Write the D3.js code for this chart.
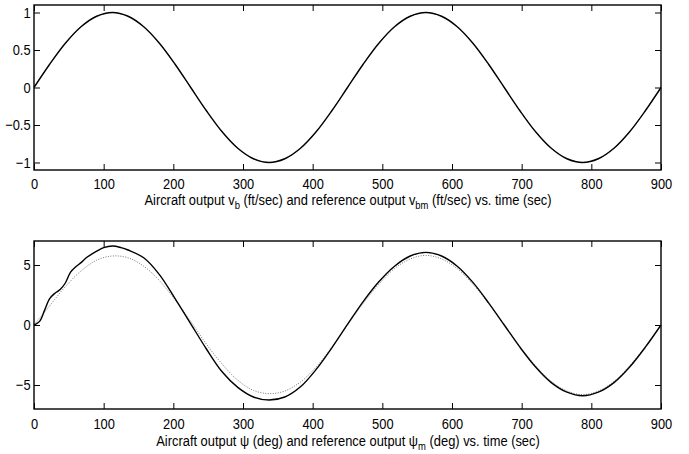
<!DOCTYPE html>
<html>
<head>
<meta charset="utf-8">
<script src="https://cdn.jsdelivr.net/npm/d3@7/dist/d3.min.js"></script>
<style>
  body { margin: 0; background: #fff; }
  svg text { font-family: "Liberation Sans", Arial, sans-serif; fill: #000; }
</style>
</head>
<body>
<div id="chart"></div>
<script>
// time samples (sec)
var time = [0, 22.5, 45, 67.5, 90, 112.5, 135, 157.5, 180, 202.5, 225, 247.5, 270, 292.5, 315, 337.5,
    360, 382.5, 405, 427.5, 450, 472.5, 495, 517.5, 540, 562.5, 585, 607.5, 630, 652.5, 675,
    697.5, 720, 742.5, 765, 787.5, 810, 832.5, 855, 877.5, 900];

// v_b and v_bm (ft/sec)
var vb = [0, 0.31, 0.59, 0.81, 0.95, 1.0, 0.95, 0.81, 0.59, 0.31, 0, -0.31, -0.59, -0.81, -0.95, -1.0,
    -0.95, -0.81, -0.59, -0.31, 0, 0.31, 0.59, 0.81, 0.95, 1.0, 0.95, 0.81, 0.59, 0.31, 0,
    -0.31, -0.59, -0.81, -0.95, -1.0, -0.95, -0.81, -0.59, -0.31, 0];
var vbm = vb.slice();

// psi (deg) - it has a few extra early samples
var psiTime = [0, 8, 15, 22.5, 30, 37.5, 45, 52.5, 60, 67.5, 75, 90, 100, 112.5, 125, 135, 157.5, 180,
    202.5, 225, 247.5, 270, 292.5, 315, 337.5, 360, 382.5, 405, 427.5, 450, 472.5, 495, 517.5,
    540, 562.5, 585, 607.5, 630, 652.5, 675, 697.5, 720, 742.5, 765, 787.5, 810, 832.5, 855,
    877.5, 900];
var psi = [0, 0.3, 1.2, 2.2, 2.65, 2.95, 3.5, 4.4, 4.85, 5.2, 5.6, 6.15, 6.45, 6.58, 6.45, 6.25, 5.6, 4.2,
    2.2, 0.1, -2.0, -3.9, -5.2, -6.0, -6.25, -6.0, -5.15, -3.7, -1.9, 0.05, 1.95, 3.6, 4.9,
    5.75, 6.05, 5.75, 4.9, 3.55, 1.85, 0, -1.85, -3.5, -4.8, -5.6, -5.9, -5.6, -4.8, -3.5,
    -1.85, 0];
var psim = [0, 1.6, 3.2, 4.5, 5.4, 5.75, 5.6, 4.9, 3.7, 2.1, 0.3, -1.6, -3.25, -4.6, -5.45, -5.72,
    -5.5, -4.75, -3.5, -1.85, 0, 1.8, 3.4, 4.7, 5.5, 5.8, 5.5, 4.7, 3.4, 1.8, 0,
    -1.8, -3.4, -4.7, -5.5, -5.8, -5.5, -4.7, -3.4, -1.8, 0];

var xTicks = [0, 100, 200, 300, 400, 500, 600, 700, 800, 900];
var topTicks = [-1, -0.5, 0, 0.5, 1];
var botTicks = [-5, 0, 5];

var W = 689, H = 454, squeeze = 0.86;
var svg = d3.select("#chart").append("svg").attr("width", W).attr("height", H);

function panel(opt) {
    var x = d3.scaleLinear().domain([0, 900]).range([34, 661]);
    var y = d3.scaleLinear().domain(opt.ydom).range([opt.bottom, opt.top]);
    var g = svg.append("g");

    g.append("g").attr("transform", "translate(0," + opt.bottom + ")")
        .call(d3.axisBottom(x).tickValues(xTicks).tickSize(-6).tickPadding(opt.xpad).tickFormat(d3.format("d")));
    g.append("g").attr("transform", "translate(0," + opt.top + ")")
        .call(d3.axisTop(x).tickValues(xTicks).tickSize(-6).tickFormat(""));
    g.append("g").attr("transform", "translate(34,0)")
        .call(d3.axisLeft(y).tickValues(opt.ticks).tickSize(-6).tickPadding(4).tickFormat(function(d) {
            return d3.format("")(d).replace("-", "\u2212");
        }));
    g.append("g").attr("transform", "translate(661,0)")
        .call(d3.axisRight(y).tickValues(opt.ticks).tickSize(-6).tickFormat(""));

    g.selectAll(".domain").remove();
    g.selectAll(".tick line").attr("stroke", "#000").attr("stroke-width", 1);
    g.selectAll(".tick text").attr("font-size", 15).attr("fill", "#000")
        .attr("transform", "scale(" + squeeze + ",1)");

    g.append("rect").attr("x", 34).attr("y", opt.top).attr("width", 627).attr("height", opt.bottom - opt.top)
        .attr("fill", "none").attr("stroke", "#000").attr("stroke-width", 1.4);

    var line = d3.line().x(function(d) { return x(d[0]); }).y(function(d) { return y(d[1]); })
        .curve(d3.curveCatmullRom);

    g.append("path").datum(d3.zip(opt.refT, opt.ref)).attr("d", line)
        .attr("fill", "none").attr("stroke", "#777").attr("stroke-width", 1).attr("stroke-dasharray", "1,1.5");
    g.append("path").datum(d3.zip(opt.outT, opt.out)).attr("d", line)
        .attr("fill", "none").attr("stroke", "#000").attr("stroke-width", 1.4);

    var t = g.append("text").attr("x", 0).attr("y", 0).attr("text-anchor", "middle").attr("font-size", 15)
        .attr("transform", "translate(348," + opt.labelY + ") scale(" + squeeze + ",1)");
    opt.label.forEach(function(p) {
        var s = t.append("tspan").text(p[0]);
        if (p[1]) s.attr("font-size", 11).attr("dy", 4);
        else if (p[2]) s.attr("dy", -4);
    });
}

panel({
    top: 5, bottom: 170, ydom: [-1.1, 1.1], ticks: topTicks, xpad: 8,
    outT: time, out: vb, refT: time, ref: vbm, labelY: 205,
    label: [["Aircraft output v"], ["b", true], [" (ft/sec) and reference output v", false, true],
            ["bm", true], [" (ft/sec) vs. time (sec)", false, true]]
});
panel({
    top: 241, bottom: 409, ydom: [-7, 7], ticks: botTicks, xpad: 9,
    outT: psiTime, out: psi, refT: time, ref: psim, labelY: 446,
    label: [["Aircraft output \u03c8 (deg) and reference output \u03c8"], ["m", true],
            [" (deg) vs. time (sec)", false, true]]
});
</script>
</body>
</html>
